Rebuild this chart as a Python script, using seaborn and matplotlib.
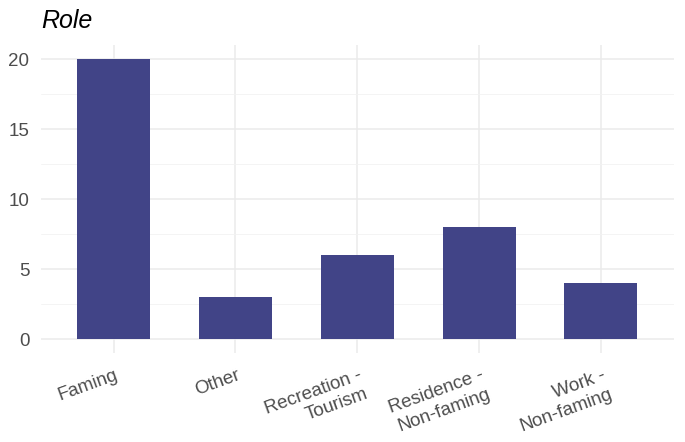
import pandas as pd
import numpy as np
import seaborn as sns
import matplotlib.pyplot as plt
import matplotlib.transforms as mtransforms
from matplotlib.ticker import MultipleLocator

roles = ['Faming', 'Other', 'Recreation -\nTourism', 'Residence -\nNon-faming', 'Work -\nNon-faming']
counts = [20, 3, 6, 8, 4]

df = pd.DataFrame({'Role': roles, 'n': counts})

sns.set_theme(style='white')
plt.rcParams['font.family'] = ['Liberation Sans', 'DejaVu Sans']

fig = plt.figure(figsize=(6.85, 4.42), dpi=100)
ax = fig.add_axes([40.5/685, 89/442, 633.5/685, 308/442])

sns.barplot(data=df, x='Role', y='n', color='#414487', saturation=1, width=0.6,
            linewidth=0, ax=ax, zorder=3)

ax.set_xlim(-0.6, 4.6)
ax.set_ylim(-1, 21)
ax.yaxis.set_major_locator(MultipleLocator(5))
ax.yaxis.set_minor_locator(MultipleLocator(2.5))
ax.grid(which='major', axis='both', color='#ebebeb', linewidth=1.1, zorder=0)
ax.grid(which='minor', axis='y', color='#f2f2f2', linewidth=0.6, zorder=0)
ax.set_axisbelow(True)
for s in ax.spines.values():
    s.set_visible(False)

ax.set_xlabel('')
ax.set_ylabel('')
ax.tick_params(axis='both', which='both', length=0, labelsize=13.5, labelcolor='#4d4d4d')
ax.tick_params(axis='y', pad=8)
ax.tick_params(axis='x', pad=10)
shift = mtransforms.ScaledTranslation(1/100, 0, fig.dpi_scale_trans)
for t in ax.get_xticklabels():
    t.set_rotation(20)
    t.set_ha('right')
    t.set_va('top')
    t.set_rotation_mode('anchor')
    t.set_multialignment('right')
    t.set_transform(t.get_transform() + shift)

fig.text(41/685, 1 - 21/442, 'Role', fontsize=18, fontstyle='italic', color='black', va='center', ha='left')

plt.savefig('out.png', dpi=100)
